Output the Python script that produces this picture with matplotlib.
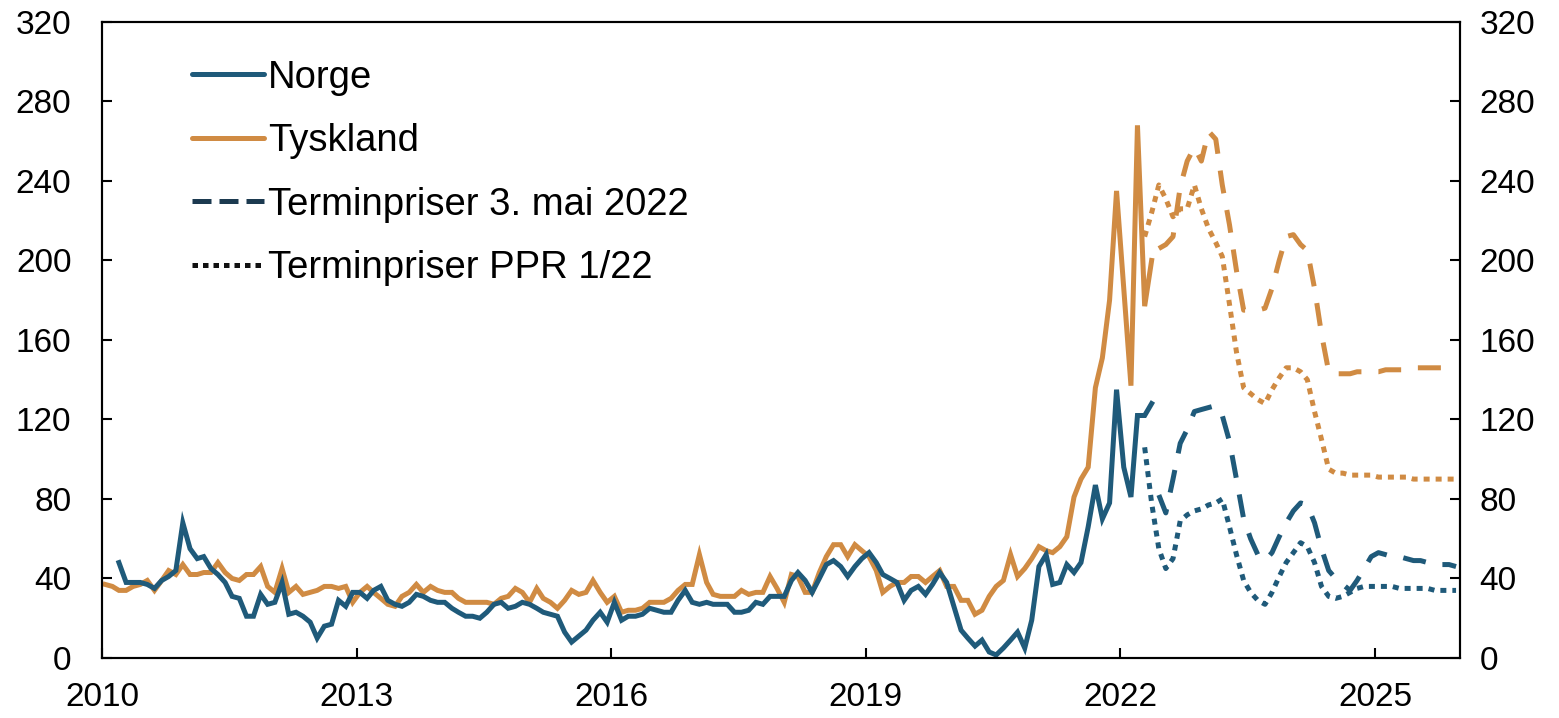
import pandas as pd
import matplotlib
matplotlib.use('Agg')
import matplotlib.pyplot as plt
import matplotlib.dates as mdates
from matplotlib.lines import Line2D

plt.rcParams['font.family'] = ['Liberation Sans', 'DejaVu Sans']

# monthly spot prices, Norge from March 2010, Tyskland from January 2010
norge = [48, 38, 38, 38, 37, 35, 39, 41, 44, 68,
         55, 50, 51, 45, 42, 38, 31, 30, 21, 21,
         32, 27, 28, 38, 22, 23, 21, 18, 10, 16,
         17, 29, 26, 33, 33, 30, 34, 36, 29, 27,
         26, 28, 32, 31, 29, 28, 28, 25, 23, 21,
         21, 20, 23, 27, 28, 25, 26, 28, 27, 25,
         23, 22, 21, 13, 8, 11, 14, 19, 23, 18,
         28, 19, 21, 21, 22, 25, 24, 23, 23, 29,
         34, 28, 27, 28, 27, 27, 27, 23, 23, 24,
         28, 27, 31, 31, 31, 39, 43, 39, 33, 40,
         47, 49, 46, 41, 46, 50, 53, 48, 42, 40,
         38, 29, 34, 36, 32, 37, 43, 38, 26, 14,
         10, 6, 9, 3, 1.5, 5, 9, 13, 5, 19,
         46, 52, 37, 38, 47, 43, 48, 66, 87, 70,
         78, 135, 96, 81, 122, 122, 128]
tyskland = [37, 36, 34, 34, 36, 37, 39, 34, 39, 44,
            42, 47, 42, 42, 43, 43, 48, 43, 40, 39,
            42, 42, 46, 36, 33, 45, 33, 36, 32, 33,
            34, 36, 36, 35, 36, 28, 33, 36, 33, 30,
            27, 26, 31, 33, 37, 33, 36, 34, 33, 33,
            30, 28, 28, 28, 28, 27, 30, 31, 35, 33,
            28, 35, 30, 28, 25, 29, 34, 32, 33, 39,
            33, 28, 31, 23, 24, 24, 25, 28, 28, 28,
            30, 34, 37, 37, 52, 38, 32, 31, 31, 31,
            34, 32, 33, 33, 41, 35, 28, 42, 41, 33,
            33, 43, 51, 57, 57, 51, 57, 54, 51, 44,
            33, 36, 38, 38, 41, 41, 38, 41, 44, 36,
            36, 29, 29, 22, 24, 31, 36, 39, 52, 41,
            45, 50, 56, 54, 53, 56, 61, 81, 90, 96,
            136, 151, 180, 235, 186, 137, 268, 177, 200]

# forward prices 3 May 2022, from June 2022
mai_norge = [82, 73, 90, 108, 115, 124, 125, 126, 127, 122,
             109, 90, 70, 60, 52, 49, 53, 61, 68, 74,
             78, 77, 68, 55, 44, 40, 37, 34, 39, 45,
             51, 53, 52, 51, 51, 50, 49, 49, 48, 48,
             47, 47, 46]
mai_tyskland = [206, 208, 212, 237, 250, 257, 250, 265, 261, 238,
                218, 195, 175, 175, 175, 176, 186, 200, 212, 213,
                208, 205, 186, 163, 144, 143, 143, 143, 144, 144,
                144, 144, 145, 145, 145, 145, 146, 146, 146, 146,
                146, 147, 147]

# forward prices PPR 1/22, from April 2022
ppr_norge = [106, 78, 55, 45, 50, 69, 72, 74, 75, 77,
             78, 80, 66, 52, 39, 33, 29, 27, 33, 41,
             48, 53, 58, 56, 48, 36, 31, 30, 31, 33,
             35, 36, 36, 36, 36, 36, 35, 35, 35, 35,
             35, 34, 34, 34, 34]
ppr_tyskland = [212, 224, 238, 231, 222, 226, 226, 238, 226, 216,
                209, 202, 178, 154, 136, 133, 130, 128, 135, 141,
                146, 146, 144, 140, 124, 110, 95, 93, 93, 92,
                92, 92, 92, 91, 91, 91, 91, 91, 90, 90,
                90, 90, 90, 90, 90]

BLUE = '#1f5a7a'
ORANGE = '#d08b43'


def months(start, n):
    return pd.date_range(start, periods=n, freq='MS') + pd.Timedelta(days=14)


fig = plt.figure(figsize=(15.59, 7.18), dpi=100)
ax = fig.add_axes([0.0654, 0.0836, 0.8711, 0.8858])

lw = 3.6
dash = (4.6, 3.4)
dot = (1.2, 1.2)

ax.plot(months('2022-06-01', len(mai_tyskland)), mai_tyskland, color=ORANGE, lw=lw, dashes=dash)
ax.plot(months('2022-06-01', len(mai_norge)), mai_norge, color=BLUE, lw=lw, dashes=dash)
ax.plot(months('2022-04-01', len(ppr_tyskland)), ppr_tyskland, color=ORANGE, lw=lw, dashes=dot)
ax.plot(months('2022-04-01', len(ppr_norge)), ppr_norge, color=BLUE, lw=lw, dashes=dot)
ax.plot(months('2010-01-01', len(tyskland)), tyskland, color=ORANGE, lw=lw, solid_joinstyle='miter')
ax.plot(months('2010-03-01', len(norge)), norge, color=BLUE, lw=lw, solid_joinstyle='miter')

ax.set_xlim(pd.Timestamp('2010-01-01'), pd.Timestamp('2026-01-01'))
ax.set_ylim(0, 320)
ax.set_yticks(range(0, 321, 40))
ax.set_xticks([pd.Timestamp(f'{y}-01-01') for y in range(2010, 2026, 3)])
ax.xaxis.set_major_formatter(mdates.DateFormatter('%Y'))

ax2 = ax.twinx()
ax2.set_ylim(0, 320)
ax2.set_yticks(range(0, 321, 40))

for a in (ax, ax2):
    for s in a.spines.values():
        s.set_linewidth(1.5)
ax.tick_params(axis='both', direction='in', length=7, width=1.5, labelsize=24)
ax.tick_params(axis='y', pad=22)
ax.tick_params(axis='x', pad=17)
ax2.tick_params(axis='y', direction='in', length=7, width=1.5, labelsize=24, pad=14)

handles = [
    Line2D([], [], color=BLUE, lw=lw, solid_capstyle='round'),
    Line2D([], [], color=ORANGE, lw=lw, solid_capstyle='round'),
    Line2D([], [], color='#1c3a50', lw=lw, dashes=(3.8, 1.6)),
    Line2D([], [], color='#111111', lw=lw, dashes=(1.1, 1.0)),
]
labels = ['Norge', 'Tyskland', 'Terminpriser 3. mai 2022', 'Terminpriser PPR 1/22']
ax.legend(handles, labels, loc='upper left', bbox_to_anchor=(0.055, 0.965), frameon=False,
          fontsize=27.5, handlelength=1.9, handletextpad=0.1, labelspacing=0.72, borderaxespad=0)

fig.savefig('out.png', dpi=100)
